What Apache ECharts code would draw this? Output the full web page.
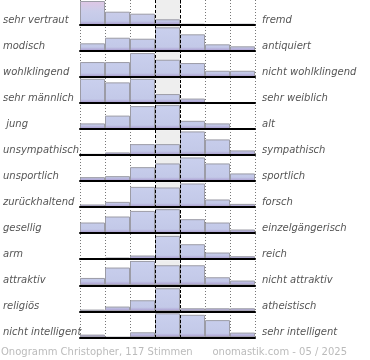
<!DOCTYPE html>
<html><head><meta charset="utf-8">
<script src="https://cdn.jsdelivr.net/npm/echarts@6/dist/echarts.min.js"></script>
<style>html,body{margin:0;padding:0;background:#fff}#c{width:370px;height:360px}</style>
</head><body><div id="c"></div>
<script>
const leftLabels = ['sehr vertraut','modisch','wohlklingend','sehr männlich',' jung','unsympathisch','unsportlich','zurückhaltend','gesellig','arm','attraktiv','religiös','nicht intelligent'];
const rightLabels = ['fremd','antiquiert','nicht wohlklingend','sehr weiblich','alt','sympathisch','sportlich','forsch','einzelgängerisch','reich','nicht attraktiv','atheistisch','sehr intelligent'];
const columns = ['1','2','3','4','5','6','7'];
// bar heights per row (row maximum = 25)
const rowVertraut     = [24, 13.3, 11.3, 5.7, 1.3, 0, 1.3];
const rowModisch      = [7.7, 13.3, 12.3, 23.7, 16.7, 6.7, 4.7];
const rowWohlklingend = [15, 15, 24, 17.3, 14, 6.3, 6.3];
const rowMaennlich    = [24.3, 20.7, 24.3, 9, 4.5, 0, 0];
const rowJung         = [5.7, 13.5, 23, 24, 8.3, 5.7, 0];
const rowUnsympathisch= [1.3, 2.7, 11, 11, 23.7, 15.7, 4.7];
const rowUnsportlich  = [4, 5, 14, 17.7, 23.7, 17.7, 7.7];
const rowZurueck      = [2.7, 5.3, 20.3, 19.7, 23.7, 7.7, 3.3];
const rowGesellig     = [10.7, 16.7, 22.3, 24, 14, 10.7, 3.7];
const rowArm          = [0, 1.7, 3.7, 23.3, 15, 6.7, 3];
const rowAttraktiv    = [7.3, 17.7, 24.3, 20, 20, 8, 4.7];
const rowReligioes    = [1.7, 4.7, 11, 23, 3, 3, 3];
const rowIntelligent  = [2.7, 0, 5, 24, 22.5, 17.2, 4.7];
const rows = [rowVertraut,rowModisch,rowWohlklingend,rowMaennlich,rowJung,rowUnsympathisch,rowUnsportlich,rowZurueck,rowGesellig,rowArm,rowAttraktiv,rowReligioes,rowIntelligent];
const centerBg = [null,null,null,25,null,null,null];

const ROWH = 26.025, BARH = 25, LEFT = 80, W = 175;
const FONT = 'DejaVu Sans';
const chart = echarts.init(document.getElementById('c'), null, {renderer:'canvas'});
const grid = [], xAxis = [], yAxis = [], series = [];
rows.forEach((vals, i) => {
  const top = ROWH * i;
  grid.push({left: LEFT, width: W, top: top, height: BARH});
  xAxis.push({type:'category', gridIndex:i, data: columns,
    axisLine:{show:true, onZero:false, lineStyle:{color:'#000', width:2}},
    axisTick:{show:false}, axisLabel:{show:false}, splitLine:{show:false}, z: 5});
  yAxis.push({type:'value', gridIndex:i, min:0, max:BARH, show:false, splitLine:{show:false}});
  const stops = i === 0
    ? [{offset:0,color:'#e2c6e4'},{offset:0.45,color:'#cacdea'},{offset:0.84,color:'#c3c9e8'},{offset:1,color:'#a796cb'}]
    : [{offset:0,color:'#cad0ee'},{offset:0.84,color:'#c3c9e8'},{offset:1,color:'#a796cb'}];
  series.push({type:'bar', xAxisIndex:i, yAxisIndex:i, data: centerBg, barCategoryGap:'0%', barGap:'-100%',
    itemStyle:{color:'#eeeeee'}, silent:true, z:1});
  series.push({type:'bar', xAxisIndex:i, yAxisIndex:i, data: vals, barCategoryGap:'0%', barGap:'-100%',
    itemStyle:{color: new echarts.graphic.LinearGradient(0, top, 0, top + BARH, stops, true),
      borderColor:'#9c9ca6', borderWidth:1}, z:2});
});
const n = rows.length;
// dotted grid overlay
grid.push({left: LEFT, width: W, top: 0, height: 338});
xAxis.push({type:'value', gridIndex:n, min:0, max:7, interval:1, axisLine:{show:false}, axisTick:{show:false}, axisLabel:{show:false},
  splitLine:{show:true, lineStyle:{color:'#777', width:1, type:[1,2]}}, z:0});
yAxis.push({type:'value', gridIndex:n, min:0, max:1, show:false, splitLine:{show:false}});
series.push({type:'line', xAxisIndex:n, yAxisIndex:n, data:[], silent:true});
// dashed center overlay
grid.push({left: LEFT + 3*W/7, width: W/7, top: 0, height: 338});
xAxis.push({type:'value', gridIndex:n+1, min:0, max:1, interval:1, axisLine:{show:false}, axisTick:{show:false}, axisLabel:{show:false},
  splitLine:{show:true, lineStyle:{color:'#000', width:1, type:[3,2]}}, z:10});
yAxis.push({type:'value', gridIndex:n+1, min:0, max:1, show:false, splitLine:{show:false}});
series.push({type:'line', xAxisIndex:n+1, yAxisIndex:n+1, data:[], silent:true});
// label grid
grid.push({left: LEFT, width: W, top: 20.5 - ROWH/2, height: ROWH*n});
xAxis.push({type:'value', gridIndex:n+2, show:false, min:0, max:1});
const lblStyle = {fontFamily: FONT, fontSize:10, fontStyle:'italic', color:'#555'};
yAxis.push({type:'category', gridIndex:n+2, data:leftLabels, inverse:true, position:'left',
  axisLine:{show:false}, axisTick:{show:false}, splitLine:{show:false},
  axisLabel:Object.assign({margin:LEFT, align:'left', interval:0}, lblStyle)});
yAxis.push({type:'category', gridIndex:n+2, data:rightLabels, inverse:true, position:'right',
  axisLine:{show:false}, axisTick:{show:false}, splitLine:{show:false},
  axisLabel:Object.assign({margin:7, align:'left', interval:0}, lblStyle)});
series.push({type:'line', xAxisIndex:n+2, yAxisIndex:n+2, data:[], silent:true});

chart.setOption({
  animation:false,
  title:[
    {text:'Onogramm Christopher, 117 Stimmen', left:1, top:347, padding:0,
     textStyle:{fontFamily:FONT, fontSize:10, fontWeight:'normal', color:'#bbbbbb'}},
    {text:'onomastik.com - 05 / 2025', right:23, top:347, padding:0,
     textStyle:{fontFamily:FONT, fontSize:10, fontWeight:'normal', color:'#bbbbbb'}}
  ],
  grid, xAxis, yAxis, series
});
</script></body></html>
